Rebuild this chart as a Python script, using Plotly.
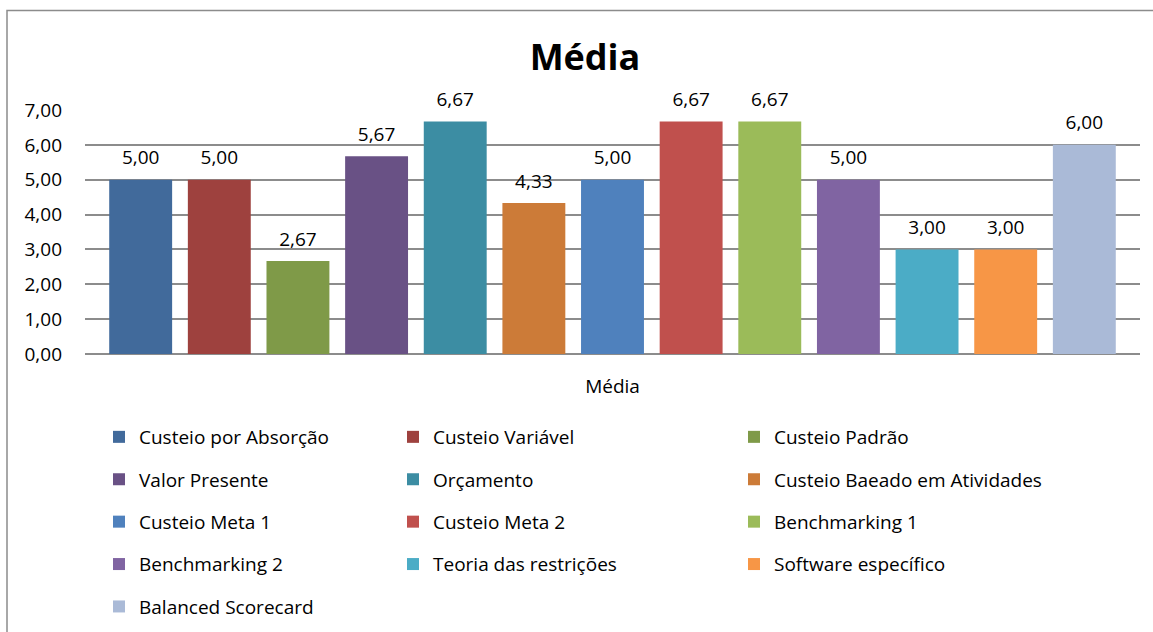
import plotly.graph_objects as go

categories = ["Média"]
series_names = [
    "Custeio por Absorção", "Custeio Variável", "Custeio Padrão",
    "Valor Presente", "Orçamento", "Custeio Baeado em Atividades",
    "Custeio Meta 1", "Custeio Meta 2", "Benchmarking 1",
    "Benchmarking 2", "Teoria das restrições", "Software específico",
    "Balanced Scorecard",
]
values = [5.00, 5.00, 2.67, 5.67, 6.67, 4.33, 5.00, 6.67, 6.67, 5.00, 3.00, 3.00, 6.00]
colors = [
    "#416A9B", "#9E413E", "#7F9A48", "#695185", "#3C8DA3", "#CC7B38",
    "#4F81BD", "#C0504D", "#9BBB59", "#8064A2", "#4BACC6", "#F79646",
    "#AABAD7",
]
y_ticks = [0, 1, 2, 3, 4, 5, 6, 7]

FONT = "'Open Sans', Lato, sans-serif"
FS = 19
W, H = 1153, 632
L, R, T, B = 85, 13, 110, 278

fig = go.Figure()
legend_ids = ["legend", "legend2", "legend3"]
for i, (name, v, c) in enumerate(zip(series_names, values, colors)):
    fig.add_trace(go.Bar(
        x=categories, y=[v], name=name,
        marker=dict(color=c, line=dict(width=0)),
        texttemplate=f"<span style='font-size:{FS}px'>%{{y:.2f}}</span><br> ",
        textposition="outside",
        textfont=dict(family=FONT, size=8, color="#000000"),
        cliponaxis=False, constraintext="none",
        legend=legend_ids[i % 3],
        legendgroup=name,
    ))

legend_common = dict(
    orientation="v", xref="container", yref="container",
    yanchor="top", xanchor="left",
    font=dict(family=FONT, size=FS, color="#000000"),
    bgcolor="rgba(0,0,0,0)", itemwidth=30, tracegroupgap=14.7,
    traceorder="grouped",
)
ytop = (H - 418) / H

fig.update_layout(
    width=W, height=H,
    margin=dict(l=L, r=R, t=T, b=B, autoexpand=False),
    paper_bgcolor="white", plot_bgcolor="white",
    separators=",.",
    title=dict(text="<b>Média</b>", x=585 / W, xanchor="center",
               y=(H - 57) / H, yanchor="middle",
               font=dict(family=FONT, size=36, color="#000000")),
    bargap=0.031, bargroupgap=0.2,
    legend=dict(x=99 / W, y=ytop, **legend_common),
    legend2=dict(x=393 / W, y=ytop, **legend_common),
    legend3=dict(x=734 / W, y=ytop, **legend_common),
    xaxis=dict(showgrid=False, showline=False, ticks="",
               tickfont=dict(family=FONT, size=FS, color="#000000"),
               ticklabelstandoff=19),
    yaxis=dict(range=[0, 7], tickvals=y_ticks, tickformat=".2f",
               showgrid=True, gridcolor="#8C8C8C", gridwidth=1.5,
               zeroline=True, zerolinecolor="#8C8C8C", zerolinewidth=1.5,
               showline=False, ticks="",
               tickfont=dict(family=FONT, size=FS, color="#000000"),
               ticklabelstandoff=22),
    shapes=[dict(type="rect", xref="paper", yref="paper",
                 x0=(7 - L) / (W - L - R), x1=(1200 - L) / (W - L - R),
                 y0=(H - B - 700) / (H - T - B), y1=(H - B - 10.5) / (H - T - B),
                 line=dict(color="#8C8C8C", width=1.5), layer="below")],
    showlegend=True,
)

fig.write_html("out.html")
